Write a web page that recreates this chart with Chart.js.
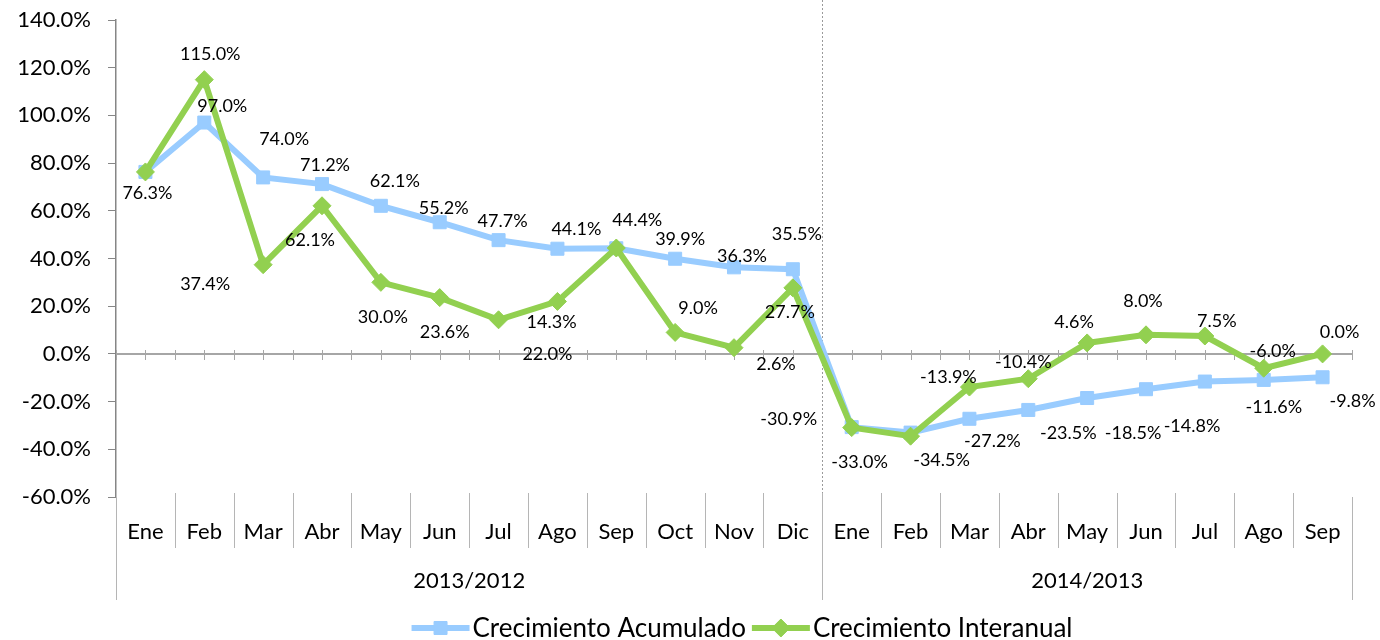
<!DOCTYPE html>
<html>
<head>
<meta charset="utf-8">
<script src="https://cdn.jsdelivr.net/npm/chart.js@4.4.1/dist/chart.umd.min.js"></script>
<style>
  body { margin: 0; background: #fff; }
</style>
</head>
<body>
<canvas id="myChart" width="1380" height="640"></canvas>
<script>
const months = ['Ene', 'Feb', 'Mar', 'Abr', 'May', 'Jun', 'Jul', 'Ago', 'Sep', 'Oct', 'Nov', 'Dic',
                'Ene', 'Feb', 'Mar', 'Abr', 'May', 'Jun', 'Jul', 'Ago', 'Sep'];
const periods = ['2013/2012', '2014/2013'];
const periodLengths = [12, 9];

const acumulado = [76.3, 97.0, 74.0, 71.2, 62.1, 55.2, 47.7, 44.1, 44.3, 39.9, 36.3, 35.5,
                   -30.7, -33.0, -27.2, -23.5, -18.5, -14.8, -11.6, -10.9, -9.8];
const interanual = [76.3, 115.0, 37.4, 62.1, 30.0, 23.6, 14.3, 22.0, 44.4, 9.0, 2.6, 27.7,
                    -30.9, -34.5, -13.9, -10.4, 4.6, 8.0, 7.5, -6.0, 0.0];

const yTicks = { min: -60, max: 140, step: 20 };

// where each data label sits relative to its point (null = no label)
const shiftAcum = [null, [18, -16], [21, -38], [3, -19], [14, -25], [4, -14], [4, -19], [19, -20], null, [5, -20], [8, -11], [4, -35],
                   null, [-51, 30], [23, 22], [40, 23], [46, 35], [46, 37], [69, 26], null, [30, 24]];
const shiftInter = [[2, 21], [6, -25], [-58, 19], [-12, 34], [2, 35], [5, 35], [53, 2], [-10, 53], [21, -28], [23, -24], [42, 16], [-3, 24],
                    [-63, -8], [31, 24], [-21, -10], [-5, -17], [-13, -21], [-3, -34], [12, -15], [9, -17], [17, -22]];

const blue = '#99CCFF';
const green = '#92D050';
const FONT = 'Lato';

Chart.defaults.font.family = FONT;
Chart.defaults.color = '#000';

const pct = v => v.toFixed(1) + '%';

const excelAxes = {
  id: 'excelAxes',
  beforeDatasetsDraw(chart) {
    const { ctx, chartArea: a, scales: { x, y } } = chart;
    const w = (a.right - a.left) / months.length;
    const y0 = Math.round(y.getPixelForValue(0));
    ctx.save();
    ctx.strokeStyle = '#a6a6a6';
    ctx.lineWidth = 2;
    ctx.beginPath();
    ctx.moveTo(a.left, y0);
    ctx.lineTo(a.right, y0);
    ctx.stroke();
    ctx.lineWidth = 1;
    for (let k = 0; k <= months.length * 2; k++) {
      const px = Math.round(x.getPixelForValue(0) - w / 2 + k * w / 2) + 0.5;
      ctx.beginPath();
      ctx.moveTo(px, y0 - 4);
      ctx.lineTo(px, y0 + 6);
      ctx.stroke();
    }
    // dotted line between the two periods
    let idx = 0;
    ctx.strokeStyle = '#9a9a9a';
    ctx.setLineDash([2, 2]);
    for (let p = 0; p < periods.length - 1; p++) {
      idx += periodLengths[p];
      const px = Math.round(x.getPixelForValue(idx) - w / 2) + 0.5;
      ctx.beginPath();
      ctx.moveTo(px, 0);
      ctx.lineTo(px, a.bottom + 103);
      ctx.stroke();
    }
    ctx.restore();
  },
  afterDatasetsDraw(chart) {
    const { ctx } = chart;
    ctx.save();
    ctx.font = '18px ' + FONT;
    ctx.fillStyle = '#000';
    ctx.textAlign = 'center';
    ctx.textBaseline = 'middle';
    [[0, acumulado, shiftAcum], [1, interanual, shiftInter]].forEach(([d, vals, shift]) => {
      const meta = chart.getDatasetMeta(d);
      meta.data.forEach((pt, i) => {
        if (!shift[i]) return;
        ctx.fillText(pct(vals[i]), pt.x + shift[i][0], pt.y + shift[i][1]);
      });
    });
    ctx.restore();
  },
  afterDraw(chart) {
    const { ctx, chartArea: a, scales: { x } } = chart;
    const w = (a.right - a.left) / months.length;
    ctx.save();
    // month row
    ctx.strokeStyle = '#b5b5b5';
    ctx.lineWidth = 1;
    ctx.font = '22px ' + FONT;
    ctx.fillStyle = '#000';
    ctx.textAlign = 'center';
    ctx.textBaseline = 'middle';
    months.forEach((m, i) => {
      const cx = x.getPixelForValue(i);
      ctx.fillText(m, cx, a.bottom + 35);
      if (i > 0) {
        const px = Math.round(cx - w / 2) + 0.5;
        ctx.beginPath();
        ctx.moveTo(px, a.bottom - 4);
        ctx.lineTo(px, a.bottom + 51);
        ctx.stroke();
      }
    });
    // period row
    let start = 0;
    periods.forEach((p, j) => {
      const left = x.getPixelForValue(start) - w / 2;
      const right = x.getPixelForValue(start + periodLengths[j] - 1) + w / 2;
      ctx.fillText(p, (left + right) / 2, a.bottom + 84);
      [left, right].forEach(edge => {
        const px = Math.round(edge) + 0.5;
        ctx.beginPath();
        ctx.moveTo(px, a.bottom);
        ctx.lineTo(px, a.bottom + 103);
        ctx.stroke();
      });
      start += periodLengths[j];
    });
    // legend
    const items = chart.data.datasets;
    ctx.font = '26px ' + FONT;
    ctx.textAlign = 'left';
    const lineLen = 58;
    const widths = items.map(ds => lineLen + 3 + ctx.measureText(ds.label).width);
    const gap = 6;
    const total = widths.reduce((s, v) => s + v, 0) + gap;
    let lx = (a.left + a.right) / 2 + 8 - total / 2;
    const ly = 628;
    items.forEach((ds, i) => {
      ctx.strokeStyle = ds.borderColor;
      ctx.fillStyle = ds.backgroundColor;
      ctx.lineWidth = 6;
      ctx.beginPath();
      ctx.moveTo(lx, ly);
      ctx.lineTo(lx + lineLen, ly);
      ctx.stroke();
      ctx.lineWidth = 1;
      Chart.helpers.drawPoint(ctx, {
        pointStyle: ds.pointStyle, radius: ds.pointRadius,
        borderWidth: 1
      }, lx + lineLen / 2, ly);
      ctx.fillStyle = '#000';
      ctx.fillText(ds.label, lx + lineLen + 3, ly + 1);
      lx += widths[i] + gap;
    });
    ctx.restore();
  }
};

const ctx = document.getElementById('myChart');

new Chart(ctx, {
  type: 'line',
  data: {
    labels: months,
    datasets: [{
      label: 'Crecimiento Acumulado',
      data: acumulado,
      borderColor: blue,
      backgroundColor: blue,
      borderWidth: 6,
      pointStyle: 'rect',
      pointRadius: 9.2,
      pointBorderWidth: 1,
      tension: 0,
      order: 1
    }, {
      label: 'Crecimiento Interanual',
      data: interanual,
      borderColor: green,
      backgroundColor: green,
      borderWidth: 6,
      pointStyle: 'rectRot',
      pointRadius: 9,
      pointBorderWidth: 1,
      tension: 0,
      order: 0
    }]
  },
  plugins: [excelAxes],
  options: {
    responsive: false,
    animation: false,
    layout: { padding: { left: 0, right: 28, top: 20, bottom: 143 } },
    plugins: {
      legend: { display: false },
      tooltip: { enabled: false }
    },
    scales: {
      x: {
        display: false,
        offset: true
      },
      y: {
        min: yTicks.min,
        max: yTicks.max,
        afterFit: scale => {
          scale.width = 116;
          scale.paddingTop = 0;
          scale.paddingBottom = 0;
        },
        ticks: {
          stepSize: yTicks.step,
          padding: 17,
          font: { size: 22 },
          color: '#000',
          callback: v => pct(v)
        },
        grid: {
          drawOnChartArea: false,
          drawTicks: true,
          tickLength: 8,
          color: '#868686'
        },
        border: { display: true, color: '#868686', width: 1.5 }
      }
    }
  }
});
</script>
</body>
</html>
